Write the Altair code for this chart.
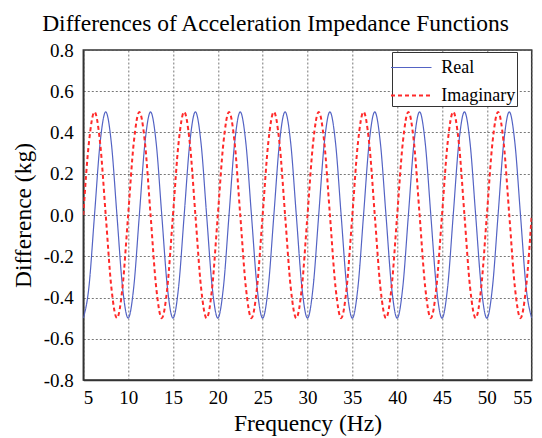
import altair as alt
import pandas as pd

# Frequency samples (Hz), read at 1/8-period spacing
freq = [5, 5.625, 6.25, 6.875, 7.5, 8.125, 8.75, 9.375,
        10, 10.625, 11.25, 11.875, 12.5, 13.125, 13.75, 14.375,
        15, 15.625, 16.25, 16.875, 17.5, 18.125, 18.75, 19.375,
        20, 20.625, 21.25, 21.875, 22.5, 23.125, 23.75, 24.375,
        25, 25.625, 26.25, 26.875, 27.5, 28.125, 28.75, 29.375,
        30, 30.625, 31.25, 31.875, 32.5, 33.125, 33.75, 34.375,
        35, 35.625, 36.25, 36.875, 37.5, 38.125, 38.75, 39.375,
        40, 40.625, 41.25, 41.875, 42.5, 43.125, 43.75, 44.375,
        45, 45.625, 46.25, 46.875, 47.5, 48.125, 48.75, 49.375,
        50, 50.625, 51.25, 51.875, 52.5, 53.125, 53.75, 54.375,
        55]

real = [-0.5, -0.35, 0, 0.35, 0.5, 0.35, 0, -0.35,
        -0.5, -0.35, 0, 0.35, 0.5, 0.35, 0, -0.35,
        -0.5, -0.35, 0, 0.35, 0.5, 0.35, 0, -0.35,
        -0.5, -0.35, 0, 0.35, 0.5, 0.35, 0, -0.35,
        -0.5, -0.35, 0, 0.35, 0.5, 0.35, 0, -0.35,
        -0.5, -0.35, 0, 0.35, 0.5, 0.35, 0, -0.35,
        -0.5, -0.35, 0, 0.35, 0.5, 0.35, 0, -0.35,
        -0.5, -0.35, 0, 0.35, 0.5, 0.35, 0, -0.35,
        -0.5, -0.35, 0, 0.35, 0.5, 0.35, 0, -0.35,
        -0.5, -0.35, 0, 0.35, 0.5, 0.35, 0, -0.35,
        -0.5]

imag = [0, 0.35, 0.5, 0.35, 0, -0.35, -0.5, -0.35,
        0, 0.35, 0.5, 0.35, 0, -0.35, -0.5, -0.35,
        0, 0.35, 0.5, 0.35, 0, -0.35, -0.5, -0.35,
        0, 0.35, 0.5, 0.35, 0, -0.35, -0.5, -0.35,
        0, 0.35, 0.5, 0.35, 0, -0.35, -0.5, -0.35,
        0, 0.35, 0.5, 0.35, 0, -0.35, -0.5, -0.35,
        0, 0.35, 0.5, 0.35, 0, -0.35, -0.5, -0.35,
        0, 0.35, 0.5, 0.35, 0, -0.35, -0.5, -0.35,
        0, 0.35, 0.5, 0.35, 0, -0.35, -0.5, -0.35,
        0, 0.35, 0.5, 0.35, 0, -0.35, -0.5, -0.35,
        0]

series_names = ["Real", "Imaginary"]
x_ticks = [5, 10, 15, 20, 25, 30, 35, 40, 45, 50, 55]
y_ticks = [-0.8, -0.6, -0.4, -0.2, 0.0, 0.2, 0.4, 0.6, 0.8]

rows = []
for f, v in zip(freq, real):
    rows.append({"Frequency": f, "Difference": v, "Series": "Real"})
for f, v in zip(freq, imag):
    rows.append({"Frequency": f, "Difference": v, "Series": "Imaginary"})
df = pd.DataFrame(rows)

FONT = "Liberation Serif"
NBSP = "\u00a0\u00a0\u00a0\u00a0"

legend = alt.Legend(
    title=None, orient="none", legendX=308.7, legendY=2,
    fillColor="white", strokeColor="#333", padding=1,
    labelFont=FONT, labelFontSize=18, labelColor="black",
    labelExpr="datum.label + '" + NBSP + "'",
    symbolType="M-1.5,0H1.5", symbolSize=729, symbolStrokeWidth=1.5,
    symbolOffset=3.75, labelOffset=15.5, rowPadding=4,
)

chart = alt.Chart(df).mark_line(interpolate="monotone", clip=True).encode(
    x=alt.X("Frequency:Q",
            scale=alt.Scale(domain=[5, 55], nice=False, zero=False),
            axis=alt.Axis(title="Frequency (Hz)", values=x_ticks, format="d",
                          ticks=False, labelPadding=8, titlePadding=4,
                          labelFont=FONT, titleFont=FONT)),
    y=alt.Y("Difference:Q",
            scale=alt.Scale(domain=[-0.8, 0.8], nice=False),
            axis=alt.Axis(title="Difference (kg)", values=y_ticks,
                          labelExpr="replace(format(datum.value, '.1f'), '−', '-')",
                          ticks=False, labelPadding=10, titlePadding=8,
                          labelFont=FONT, titleFont=FONT)),
    color=alt.Color("Series:N",
                    scale=alt.Scale(domain=series_names, range=["#5363c4", "#ff2a2a"]),
                    legend=legend),
    strokeDash=alt.StrokeDash("Series:N",
                              scale=alt.Scale(domain=series_names, range=[[1, 0], [4, 3]]),
                              legend=legend),
    strokeWidth=alt.StrokeWidth("Series:N",
                                scale=alt.Scale(domain=series_names, range=[1.2, 2.0]),
                                legend=None),
).properties(
    width=448.4, height=330,
    autosize=alt.AutoSizeParams(type="none"),
    padding={"left": 83.3, "top": 50, "right": 10.3, "bottom": 58},
    title=alt.TitleParams("Differences of Acceleration Impedance Functions",
                          font=FONT, fontSize=23.5, fontWeight="normal",
                          color="black", anchor="middle", offset=6, dx=-32),
).configure(
    font=FONT
).configure_view(
    stroke="#333", strokeWidth=1.5
).configure_axis(
    domainColor="#333", domainWidth=1.5,
    gridColor="#555", gridDash=[2, 2], gridWidth=0.8,
    labelFont=FONT, labelFontSize=19, labelColor="black",
    titleFont=FONT, titleFontSize=23.5, titleFontWeight="normal", titleColor="black",
).configure_legend(
    labelFont=FONT, strokeWidth=1
)

chart.save("out.html", embed_options={"renderer": "svg", "actions": False})
